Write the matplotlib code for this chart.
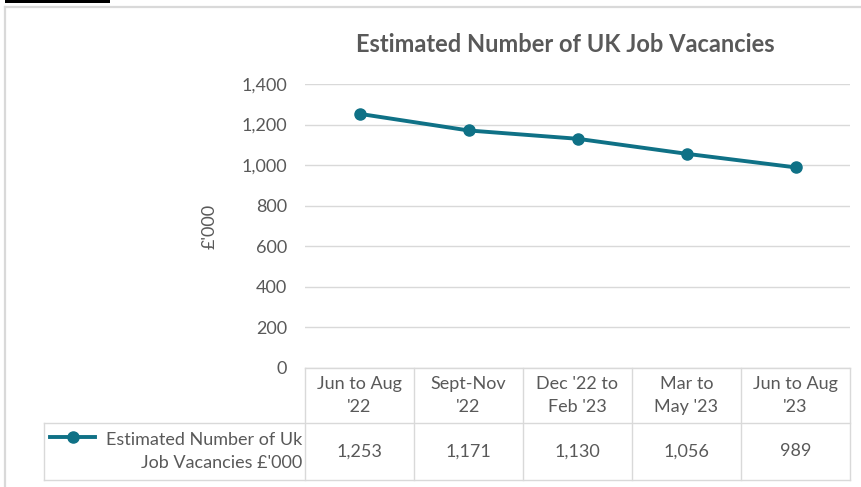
import matplotlib
matplotlib.use("Agg")
import matplotlib.pyplot as plt
from matplotlib.lines import Line2D
from matplotlib.patches import Rectangle
import matplotlib.transforms as mtransforms

plt.rcParams['font.family'] = ['Lato', 'DejaVu Sans']

# data
periods = ["Jun to Aug\n'22", "Sept-Nov\n'22", "Dec '22 to\nFeb '23", "Mar to\nMay '23", "Jun to Aug\n'23"]
vacancies = [1253, 1171, 1130, 1056, 989]
series_name = "Estimated Number of Uk\nJob Vacancies £'000"
yticks = [0, 200, 400, 600, 800, 1000, 1200, 1400]

TEAL = "#0f7186"
GRID = "#d9d9d9"
TXT = "#595959"
FS = 13

W, H = 862, 487
fig = plt.figure(figsize=(W / 100, H / 100), dpi=100)


def px(x0, y0, x1, y1):
    # pixel box (top-left origin) -> figure fraction rect
    return [x0 / W, 1 - y1 / H, (x1 - x0) / W, (y1 - y0) / H]


# outer chart frame (cropped at right and bottom)
fig.add_artist(Line2D([5 / W, 1], [1 - 7 / H, 1 - 7 / H], color=GRID, lw=1.6))
fig.add_artist(Line2D([5 / W, 5 / W], [0, 1 - 7 / H], color=GRID, lw=1.6))
# black underline of the cropped heading above the chart
fig.add_artist(Rectangle((5 / W, 1 - 3 / H), 105 / W, 3 / H, color="black", lw=0))

ax = fig.add_axes(px(305, 84, 850, 368))
x = list(range(len(vacancies)))
ax.plot(x, vacancies, color=TEAL, lw=2.8, marker="o", ms=8, zorder=3)
ax.set_xlim(-0.5, len(vacancies) - 0.5)
ax.set_ylim(0, 1400)
ax.set_yticks(yticks)
ax.set_yticklabels([f"{v:,}" for v in yticks])
ax.tick_params(axis="y", length=0, pad=13, labelsize=FS, labelcolor=TXT)
ax.set_xticks([])
for s in ax.spines.values():
    s.set_visible(False)
ax.grid(axis="y", color=GRID, lw=1)
ax.set_axisbelow(True)
ax.set_ylabel("£'000", fontsize=FS, color=TXT, labelpad=17)

fig.text(565 / W, 1 - 44 / H, "Estimated Number of UK Job Vacancies",
         ha="center", va="center", fontsize=17, fontweight="bold", color=TXT)

# data table under the axis
row1 = -55 / 284
row2 = -112 / 284
leg_left = (44 - 305) / 545
bt = mtransforms.blended_transform_factory(ax.transData, ax.transAxes)
at = ax.transAxes
kw = dict(color=GRID, lw=1, clip_on=False)
ax.plot([0, 0], [0, row2], transform=at, **kw)
ax.plot([1, 1], [0, row2], transform=at, **kw)
ax.plot([0, 1], [0, 0], transform=at, **kw)
ax.plot([leg_left, 1], [row1, row1], transform=at, **kw)
ax.plot([leg_left, 1], [row2, row2], transform=at, **kw)
ax.plot([leg_left, leg_left], [row1, row2], transform=at, **kw)
for i in range(1, len(periods)):
    ax.plot([i - 0.5, i - 0.5], [0, row2], transform=bt, **kw)

for i, (lab, v) in enumerate(zip(periods, vacancies)):
    ax.text(i, row1 / 2, lab, transform=bt, ha="center", va="center",
            fontsize=FS, color=TXT, linespacing=1.5)
    ax.text(i, (row1 + row2) / 2, f"{v:,}", transform=bt, ha="center",
            va="center", fontsize=FS, color=TXT)

# legend key in the table
ky = row1 - 14 / 284
kx0 = (50 - 305) / 545
kx1 = (95 - 305) / 545
ax.plot([kx0, kx1], [ky, ky], transform=at, color=TEAL, lw=2.8, clip_on=False)
ax.plot([(kx0 + kx1) / 2], [ky], transform=at, color=TEAL, marker="o", ms=8,
        clip_on=False)
ax.text(-3 / 545, (row1 + row2) / 2, series_name, transform=at, ha="right",
        va="center", multialignment="right", fontsize=FS, color=TXT,
        linespacing=1.5)

fig.savefig("out.png", dpi=100)
